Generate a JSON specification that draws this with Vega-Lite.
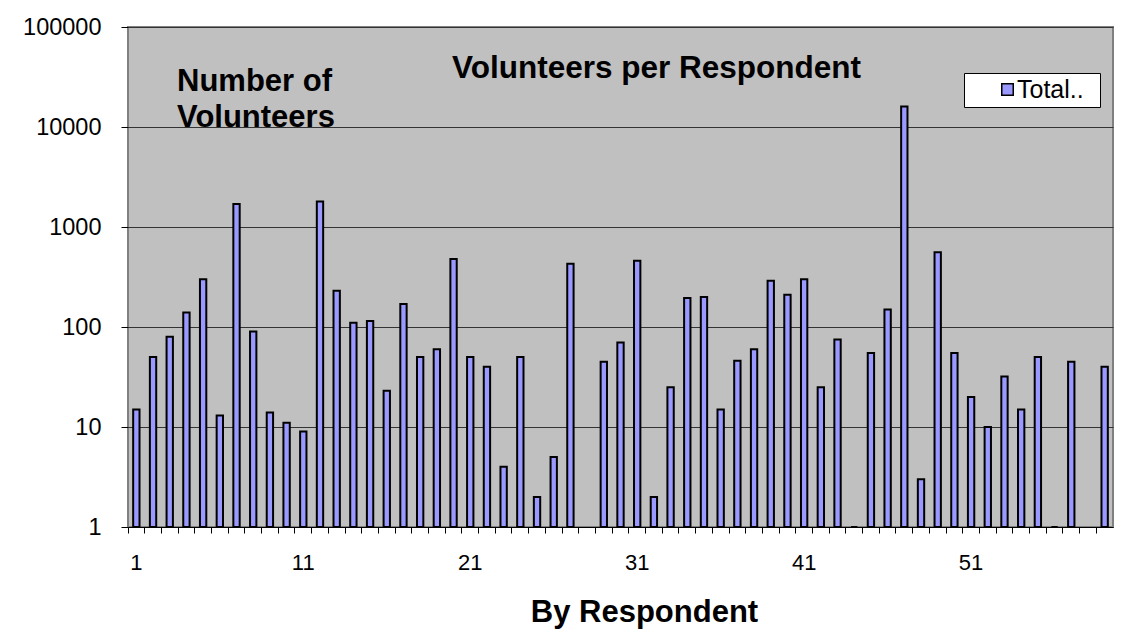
{
  "$schema": "https://vega.github.io/schema/vega-lite/v6.json",
  "width": 985,
  "height": 500,
  "autosize": {"type": "none"},
  "padding": {"left": 128, "top": 27, "right": 15, "bottom": 105},
  "background": "white",
  "title": {
    "text": "Volunteers per Respondent",
    "anchor": "start",
    "frame": "group",
    "dx": 324,
    "dy": 94,
    "offset": 0,
    "baseline": "alphabetic",
    "font": "Liberation Sans",
    "fontSize": 31.5,
    "fontWeight": "bold",
    "color": "black"
  },
  "data": {
    "values": [
      {"respondent": 1, "volunteers": 15, "series": "Total.."},
      {"respondent": 2, "volunteers": 50, "series": "Total.."},
      {"respondent": 3, "volunteers": 80, "series": "Total.."},
      {"respondent": 4, "volunteers": 140, "series": "Total.."},
      {"respondent": 5, "volunteers": 300, "series": "Total.."},
      {"respondent": 6, "volunteers": 13, "series": "Total.."},
      {"respondent": 7, "volunteers": 1700, "series": "Total.."},
      {"respondent": 8, "volunteers": 90, "series": "Total.."},
      {"respondent": 9, "volunteers": 14, "series": "Total.."},
      {"respondent": 10, "volunteers": 11, "series": "Total.."},
      {"respondent": 11, "volunteers": 9, "series": "Total.."},
      {"respondent": 12, "volunteers": 1800, "series": "Total.."},
      {"respondent": 13, "volunteers": 230, "series": "Total.."},
      {"respondent": 14, "volunteers": 110, "series": "Total.."},
      {"respondent": 15, "volunteers": 115, "series": "Total.."},
      {"respondent": 16, "volunteers": 23, "series": "Total.."},
      {"respondent": 17, "volunteers": 170, "series": "Total.."},
      {"respondent": 18, "volunteers": 50, "series": "Total.."},
      {"respondent": 19, "volunteers": 60, "series": "Total.."},
      {"respondent": 20, "volunteers": 480, "series": "Total.."},
      {"respondent": 21, "volunteers": 50, "series": "Total.."},
      {"respondent": 22, "volunteers": 40, "series": "Total.."},
      {"respondent": 23, "volunteers": 4, "series": "Total.."},
      {"respondent": 24, "volunteers": 50, "series": "Total.."},
      {"respondent": 25, "volunteers": 2, "series": "Total.."},
      {"respondent": 26, "volunteers": 5, "series": "Total.."},
      {"respondent": 27, "volunteers": 430, "series": "Total.."},
      {"respondent": 29, "volunteers": 45, "series": "Total.."},
      {"respondent": 30, "volunteers": 70, "series": "Total.."},
      {"respondent": 31, "volunteers": 460, "series": "Total.."},
      {"respondent": 32, "volunteers": 2, "series": "Total.."},
      {"respondent": 33, "volunteers": 25, "series": "Total.."},
      {"respondent": 34, "volunteers": 195, "series": "Total.."},
      {"respondent": 35, "volunteers": 200, "series": "Total.."},
      {"respondent": 36, "volunteers": 15, "series": "Total.."},
      {"respondent": 37, "volunteers": 46, "series": "Total.."},
      {"respondent": 38, "volunteers": 60, "series": "Total.."},
      {"respondent": 39, "volunteers": 290, "series": "Total.."},
      {"respondent": 40, "volunteers": 210, "series": "Total.."},
      {"respondent": 41, "volunteers": 300, "series": "Total.."},
      {"respondent": 42, "volunteers": 25, "series": "Total.."},
      {"respondent": 43, "volunteers": 75, "series": "Total.."},
      {"respondent": 44, "volunteers": 1, "series": "Total.."},
      {"respondent": 45, "volunteers": 55, "series": "Total.."},
      {"respondent": 46, "volunteers": 150, "series": "Total.."},
      {"respondent": 47, "volunteers": 16000, "series": "Total.."},
      {"respondent": 48, "volunteers": 3, "series": "Total.."},
      {"respondent": 49, "volunteers": 560, "series": "Total.."},
      {"respondent": 50, "volunteers": 55, "series": "Total.."},
      {"respondent": 51, "volunteers": 20, "series": "Total.."},
      {"respondent": 52, "volunteers": 10, "series": "Total.."},
      {"respondent": 53, "volunteers": 32, "series": "Total.."},
      {"respondent": 54, "volunteers": 15, "series": "Total.."},
      {"respondent": 55, "volunteers": 50, "series": "Total.."},
      {"respondent": 56, "volunteers": 1, "series": "Total.."},
      {"respondent": 57, "volunteers": 45, "series": "Total.."},
      {"respondent": 59, "volunteers": 40, "series": "Total.."}
    ]
  },
  "mark": {"type": "bar", "width": {"band": 0.38}, "stroke": "black", "strokeWidth": 2},
  "encoding": {
    "x": {
      "field": "respondent",
      "type": "ordinal",
      "scale": {
        "domain": [1,2,3,4,5,6,7,8,9,10,11,12,13,14,15,16,17,18,19,20,21,22,23,24,25,26,27,28,29,30,31,32,33,34,35,36,37,38,39,40,41,42,43,44,45,46,47,48,49,50,51,52,53,54,55,56,57,58,59],
        "paddingInner": 0,
        "paddingOuter": 0
      },
      "axis": {
        "title": "By Respondent",
        "titleFont": "Liberation Sans",
        "titleFontSize": 31,
        "titleFontWeight": "bold",
        "titleColor": "black",
        "titleX": 516,
        "titleY": 94,
        "titleAlign": "center",
        "titleBaseline": "alphabetic",
        "labelAngle": 0,
        "labelFont": "Liberation Sans",
        "labelFontSize": 22,
        "labelColor": "black",
        "labelPadding": 19,
        "labelExpr": "(datum.value - 1) % 10 == 0 ? datum.label : ''",
        "labelOverlap": false,
        "bandPosition": 0,
        "tickSize": 6,
        "tickColor": "black",
        "domainColor": "black",
        "domainWidth": 1,
        "grid": false
      }
    },
    "y": {
      "field": "volunteers",
      "type": "quantitative",
      "scale": {"type": "log", "domain": [1, 100000], "nice": false},
      "axis": {
        "title": ["Number of", "Volunteers"],
        "titleFont": "Liberation Sans",
        "titleAngle": 0,
        "titleAlign": "left",
        "titleBaseline": "alphabetic",
        "titleX": 48.5,
        "titleY": 63,
        "titleFontSize": 31,
        "titleFontWeight": "bold",
        "titleColor": "black",
        "titleLineHeight": 36.7,
        "values": [1, 10, 100, 1000, 10000, 100000],
        "format": "d",
        "labelFont": "Liberation Sans",
        "labelFontSize": 23.5,
        "labelColor": "black",
        "labelPadding": 20,
        "tickSize": 7,
        "tickColor": "black",
        "domain": false,
        "grid": true,
        "gridColor": "#333333",
        "gridWidth": 1
      }
    },
    "y2": {"datum": 1},
    "fill": {
      "field": "series",
      "type": "nominal",
      "scale": {"domain": ["Total.."], "range": ["#9999FF"]},
      "legend": {
        "title": ".",
        "titleColor": "white",
        "titleOrient": "right",
        "titleFontSize": 4,
        "titlePadding": 10,
        "orient": "none",
        "legendX": 836,
        "legendY": 46,
        "fillColor": "white",
        "strokeColor": "black",
        "padding": 4,
        "symbolType": "square",
        "symbolSize": 132,
        "symbolStrokeColor": "black",
        "symbolStrokeWidth": 1.5,
        "symbolOffset": 27,
        "labelFont": "Liberation Sans",
        "labelFontSize": 25,
        "labelColor": "black",
        "labelOffset": -3
      }
    }
  },
  "config": {
    "font": "Liberation Sans",
    "view": {"fill": "#C0C0C0", "stroke": "#808080", "strokeWidth": 2}
  }
}
